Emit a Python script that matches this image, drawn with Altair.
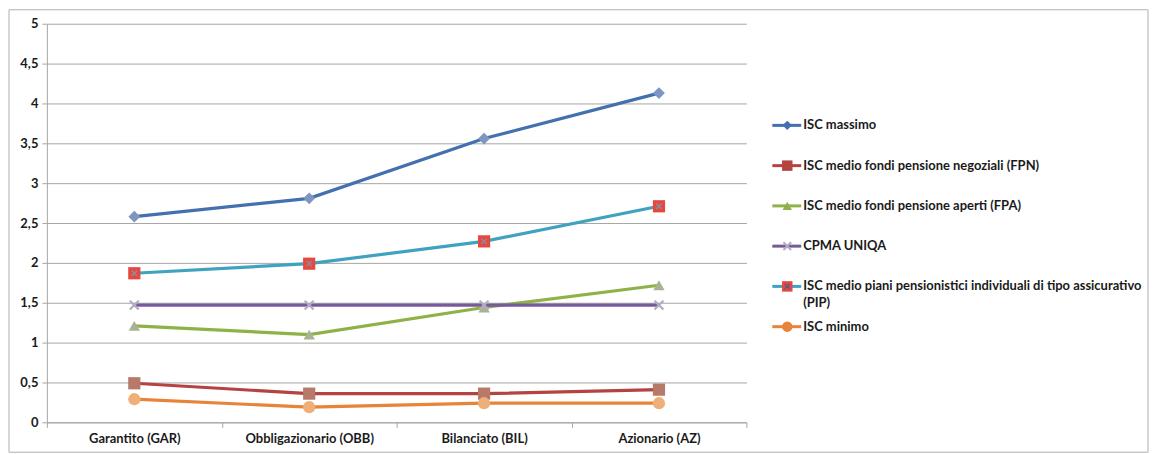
import altair as alt
import pandas as pd

categories = ["Garantito (GAR)", "Obbligazionario (OBB)", "Bilanciato (BIL)", "Azionario (AZ)"]

series_names = [
    "ISC massimo",
    "ISC medio fondi pensione negoziali (FPN)",
    "ISC medio fondi pensione aperti (FPA)",
    "CPMA UNIQA",
    "ISC medio piani pensionistici individuali di tipo assicurativo (PIP)",
    "ISC minimo",
]
legend_line1 = [
    "ISC massimo",
    "ISC medio fondi pensione negoziali (FPN)",
    "ISC medio fondi pensione aperti (FPA)",
    "CPMA UNIQA",
    "ISC medio piani pensionistici individuali di tipo assicurativo",
    "ISC minimo",
]
legend_line2 = ["", "", "", "", "(PIP)", ""]

isc_massimo = [2.58, 2.81, 3.56, 4.13]
isc_fpn = [0.49, 0.36, 0.36, 0.41]
isc_fpa = [1.21, 1.10, 1.44, 1.72]
cpma_uniqa = [1.47, 1.47, 1.47, 1.47]
isc_pip = [1.87, 1.99, 2.27, 2.71]
isc_minimo = [0.29, 0.19, 0.24, 0.24]

values = [isc_massimo, isc_fpn, isc_fpa, cpma_uniqa, isc_pip, isc_minimo]

line_colors = ["#4370AE", "#B54341", "#8FB248", "#765A9B", "#3FA3BF", "#E8843A"]
marker_colors = ["#7E96C2", "#B77A6A", "#A7B494", "#B3ABC0", "#E6473F", "#F0AE78"]

rows = []
for name, vals in zip(series_names, values):
    for c, v in zip(categories, vals):
        rows.append({"categoria": c, "serie": name, "valore": v})
df = pd.DataFrame(rows)

leg = pd.DataFrame({"serie": series_names, "l1": legend_line1, "l2": legend_line2})

FONT = "Lato"
FS = 13
GRID = "#A6A6A6"
XSHAPE = "M-1,-1L1,1M1,-1L-1,1"

color_scale = alt.Scale(domain=series_names, range=line_colors)

X = alt.X(
    "categoria:N",
    sort=categories,
    bandPosition=0.5,
    scale=alt.Scale(type="band", paddingInner=0, paddingOuter=0),
    axis=alt.Axis(
        title=None, labelAngle=0, tickBand="extent", ticks=True, tickSize=5,
        tickColor=GRID, domainColor=GRID, labelFont=FONT, labelFontSize=FS,
        labelFontWeight="bold", labelColor="#1a1a1a", labelPadding=5, grid=False,
    ),
)
Y = alt.Y(
    "valore:Q",
    scale=alt.Scale(domain=[0, 5], nice=False),
    axis=alt.Axis(
        title=None, values=[0, 0.5, 1, 1.5, 2, 2.5, 3, 3.5, 4, 4.5, 5],
        labelExpr="replace(toString(datum.value), '.', ',')", grid=True, gridColor=GRID,
        domainColor=GRID, tickColor=GRID, tickSize=5, labelFont=FONT,
        labelFontSize=FS, labelFontWeight="bold", labelColor="#1a1a1a",
        labelPadding=4, minExtent=30, maxExtent=30,
    ),
)

base = alt.Chart(df)

lines = base.mark_line(strokeWidth=3.2).encode(
    x=X, y=Y, color=alt.Color("serie:N", scale=color_scale, legend=None), detail="serie:N"
)

def pts(i, **kw):
    return base.transform_filter(alt.datum.serie == series_names[i]).mark_point(
        opacity=1, **kw).encode(x=X, y=Y)

p1 = pts(0, shape="diamond", filled=True, size=140, color=marker_colors[0])
p2 = pts(1, shape="square", filled=True, size=150, color=marker_colors[1])
p3 = pts(2, shape="triangle-up", filled=True, size=130, color=marker_colors[2])
p4 = pts(3, shape=XSHAPE, filled=False, size=80, strokeWidth=2.2, color=marker_colors[3])
p5 = pts(4, shape="square", filled=True, size=150, color=marker_colors[4])
p5x = pts(4, shape=XSHAPE, filled=False, size=28, strokeWidth=1.5, color="#8C8C9A")
p6 = pts(5, shape="circle", filled=True, size=150, color=marker_colors[5])

border = alt.Chart(leg).mark_rect(filled=False, stroke="#B0B0B0", strokeWidth=1).encode(
    x=alt.value(-38), x2=alt.value(1105), y=alt.value(-14), y2=alt.value(430)
).transform_filter(alt.datum.serie == series_names[0])

main = alt.layer(border, lines, p1, p2, p3, p4, p5, p5x, p6).properties(width=702, height=400)

LY = alt.Y("serie:N", sort=series_names, axis=None,
           scale=alt.Scale(type="point", range=[102, 304], padding=0))
lb = alt.Chart(leg)
leg_rule = lb.mark_rule(strokeWidth=3).encode(
    x=alt.value(0), x2=alt.value(29), y=LY,
    color=alt.Color("serie:N", scale=color_scale, legend=None),
)

def lpts(i, **kw):
    return lb.transform_filter(alt.datum.serie == series_names[i]).mark_point(
        opacity=1, **kw).encode(x=alt.value(15), y=LY)

lp = [
    lpts(0, shape="diamond", filled=True, size=90, color=line_colors[0]),
    lpts(1, shape="square", filled=True, size=110, color=line_colors[1]),
    lpts(2, shape="triangle-up", filled=True, size=90, color=line_colors[2]),
    lpts(3, shape=XSHAPE, filled=False, size=60, strokeWidth=2, color=marker_colors[3]),
    lpts(4, shape="square", filled=True, size=110, color=marker_colors[4]),
    lpts(4, shape=XSHAPE, filled=False, size=25, strokeWidth=1.5, color="#5a5a8a"),
    lpts(5, shape="circle", filled=True, size=110, color=line_colors[5]),
]

txt1 = lb.mark_text(align="left", baseline="middle", font=FONT, fontSize=FS, fontWeight="bold",
                    color="#1a1a1a").encode(x=alt.value(31), y=LY, text="l1:N")
txt2 = lb.mark_text(align="left", baseline="middle", font=FONT, fontSize=FS, fontWeight="bold",
                    color="#1a1a1a", dy=17).encode(x=alt.value(31), y=LY, text="l2:N")

legend_panel = alt.layer(leg_rule, *lp, txt1, txt2).properties(width=370, height=400)

chart = alt.hconcat(main, legend_panel, spacing=26, bounds="flush").properties(
    padding={"left": 0, "top": 0, "right": 0, "bottom": 0}
).configure_view(stroke=None)

chart.save("out.html", embed_options={"renderer": "svg", "actions": False})
